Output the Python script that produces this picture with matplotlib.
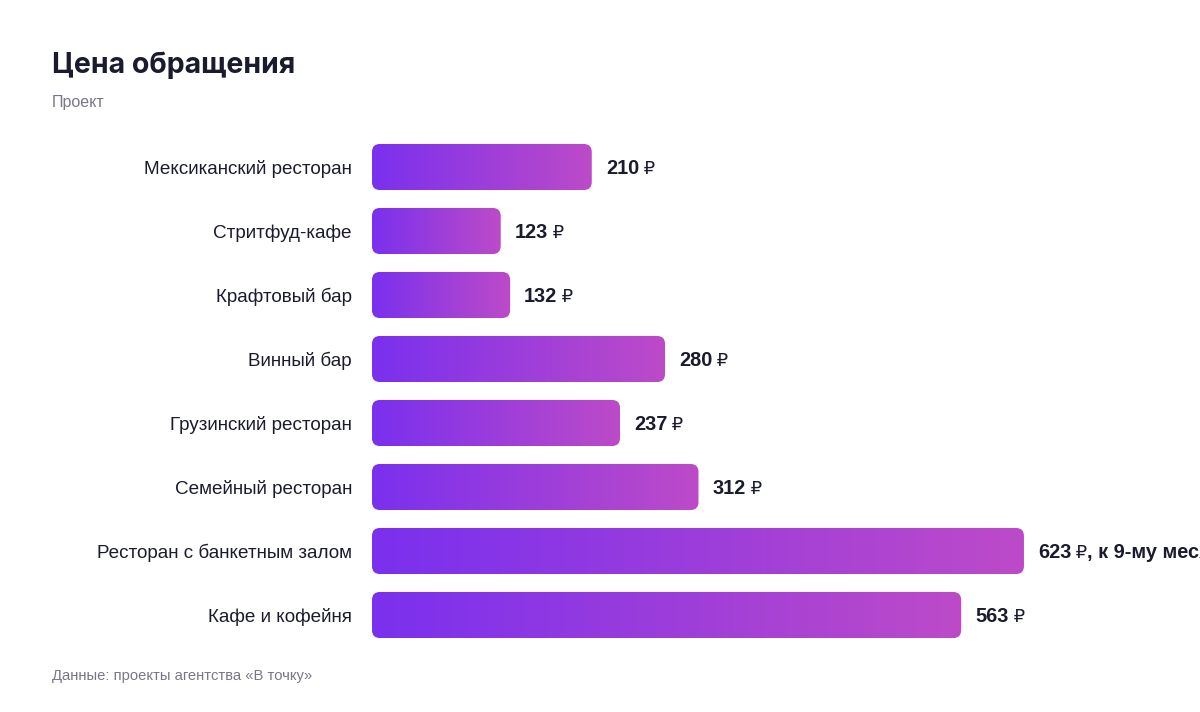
import numpy as np
import matplotlib.pyplot as plt
from matplotlib.patches import FancyBboxPatch
from matplotlib.colors import to_rgb

plt.rcParams['font.family'] = ['Liberation Sans', 'DejaVu Sans']

categories = ['Мексиканский ресторан', 'Стритфуд-кафе', 'Крафтовый бар', 'Винный бар',
              'Грузинский ресторан', 'Семейный ресторан', 'Ресторан с банкетным залом',
              'Кафе и кофейня']
values = [210, 123, 132, 280, 237, 312, 623, 563]
suffixes = ['', '', '', '', '', '', ', к 9-му месяцу', '']

title = 'Цена обращения'
subtitle = 'Проект'
source = 'Данные: проекты агентства «В точку»'

DARK = '#1b1b2f'
GREY = '#777789'
C_LEFT = '#7a30ee'
C_RIGHT = '#bd4bc8'

W, H, DPI = 1200, 712, 100
fig = plt.figure(figsize=(W / DPI, H / DPI), dpi=DPI)

# axes placed in pixel space: bars start at x=372, rows 64px apart
ax_left, ax_top, ax_bottom = 372, 135, 647
ax = fig.add_axes([ax_left / W, 1 - ax_bottom / H, (W - ax_left) / W, (ax_bottom - ax_top) / H])
px_per_unit = 1.0465
xmax = (W - ax_left) / px_per_unit
ax.set_xlim(0, xmax)
ax.set_ylim(len(values) - 0.5, -0.5)
ax.axis('off')

bar_h = 0.72
row_px = (ax_bottom - ax_top) / len(values)
r_px = 8
r_x = r_px / px_per_unit
aspect = (r_px / row_px) / r_x
dy = 2 / row_px  # text sits a touch lower than the bar centre

grad = np.linspace(0, 1, 256)
c0, c1 = np.array(to_rgb(C_LEFT)), np.array(to_rgb(C_RIGHT))
img = (c0[None, :] * (1 - grad[:, None]) + c1[None, :] * grad[:, None])[None, :, :]

for i, (cat, v, suf) in enumerate(zip(categories, values, suffixes)):
    patch = FancyBboxPatch((0, i - bar_h / 2), v, bar_h,
                           boxstyle=f'round,pad=0,rounding_size={r_x}',
                           mutation_aspect=aspect, facecolor='none', edgecolor='none')
    ax.add_patch(patch)
    im = ax.imshow(img, extent=[0, v, i + bar_h / 2, i - bar_h / 2],
                   aspect='auto', interpolation='bilinear')
    im.set_clip_path(patch)

    ax.text(-20 / px_per_unit, i + dy, cat, ha='right', va='center', fontsize=13.6, color=DARK)

    t1 = ax.annotate(str(v), xy=(v, i + dy), xytext=(14, 0), textcoords='offset pixels',
                     ha='left', va='center', fontsize=14.4, fontweight='bold', color=DARK,
                     annotation_clip=False)
    t2 = ax.annotate('\u2009₽', xy=(1, 0.5), xycoords=t1, xytext=(1, 0),
                     textcoords='offset pixels', ha='left', va='center',
                     fontsize=13, color=DARK, family=['DejaVu Sans'])
    if suf:
        ax.annotate(suf, xy=(1, 0.5), xycoords=t2, ha='left', va='center',
                    fontsize=14.4, fontweight='bold', color=DARK)

fig.text(52 / W, 1 - 65 / H, title, ha='left', va='center', fontsize=20.5,
         fontweight='bold', color=DARK, family=['Inter', 'DejaVu Sans'])
fig.text(52 / W, 1 - 102 / H, subtitle, ha='left', va='center', fontsize=11.5, color=GREY)
fig.text(52 / W, 1 - 676 / H, source, ha='left', va='center', fontsize=10.6, color=GREY)

fig.savefig('out.png', dpi=DPI, facecolor='white')
